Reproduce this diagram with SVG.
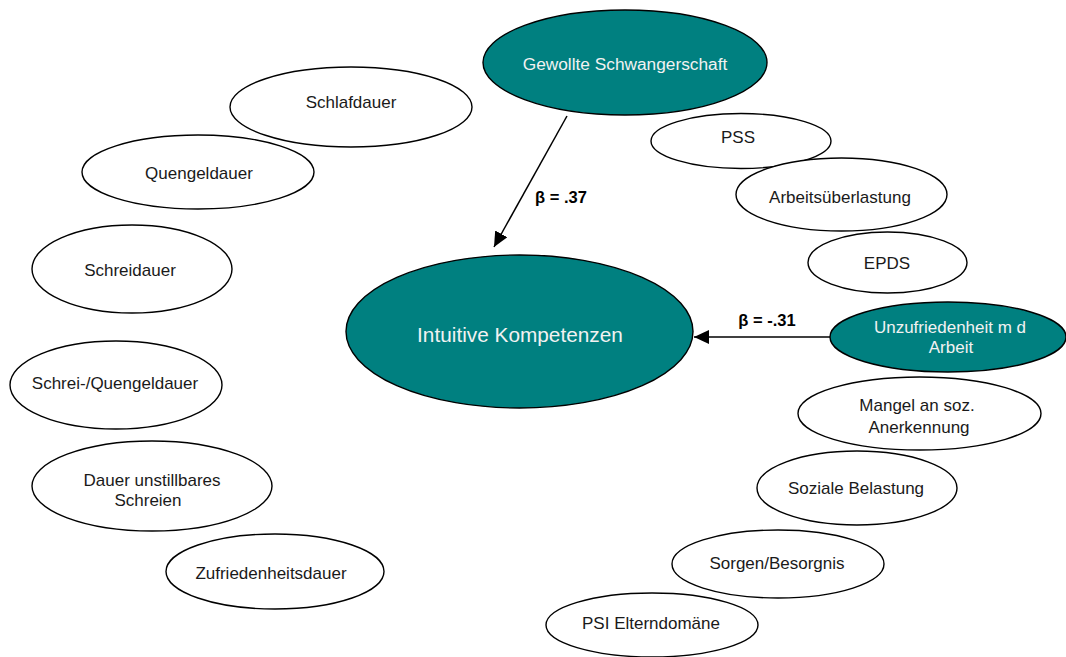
<svg xmlns="http://www.w3.org/2000/svg" width="1066" height="657" viewBox="0 0 1066 657">
<defs>
<style>
.n ellipse{fill:#ffffff;stroke:#000000;stroke-width:1.4}
.k ellipse{fill:#008080;stroke:#000000;stroke-width:1.4}
text{font-family:"Liberation Sans",Arial,sans-serif;text-anchor:middle}
.n text{font-size:17px;fill:#1a1a1a}
.k text{font-size:17px;fill:#f2f2f2}
.lbl{font-size:16.5px;font-weight:bold;fill:#000000}
.c line{stroke:#000000;stroke-width:1.5;marker-end:url(#ah)}
</style>
<marker id="ah" markerUnits="userSpaceOnUse" markerWidth="16" markerHeight="14" refX="15" refY="7" orient="auto">
<path d="M0,0 L15,7 L0,14 z" fill="#000000"/>
</marker>
</defs>
<rect width="1066" height="657" fill="#ffffff"/>

<g class="c" id="connectors">
<line x1="567" y1="116" x2="494" y2="247"/>
<line x1="830" y1="337" x2="694" y2="337"/>
<text class="lbl" x="561" y="203">β = .37</text>
<text class="lbl" x="767" y="326">β = -.31</text>
</g>

<g class="k" id="gewollte"><ellipse cx="625" cy="62.5" rx="142" ry="52.5"/><text x="625" y="70" style="font-size:17.3px">Gewollte Schwangerschaft</text></g>
<g class="k" id="intuitive"><ellipse cx="519.5" cy="331.5" rx="173.5" ry="76.5"/><text x="520" y="342" style="font-size:20.8px">Intuitive Kompetenzen</text></g>
<g class="k" id="unzufriedenheit"><ellipse cx="948" cy="337" rx="118" ry="35"/><text x="950" y="333">Unzufriedenheit m d</text><text x="951" y="353">Arbeit</text></g>

<g class="n" id="schlafdauer"><ellipse cx="351" cy="107" rx="121" ry="40"/><text x="351" y="108">Schlafdauer</text></g>
<g class="n" id="quengeldauer"><ellipse cx="198" cy="172" rx="116" ry="37"/><text x="199" y="179">Quengeldauer</text></g>
<g class="n" id="schreidauer"><ellipse cx="132" cy="269" rx="100" ry="44"/><text x="130" y="276">Schreidauer</text></g>
<g class="n" id="schreiquengel"><ellipse cx="116" cy="385" rx="106" ry="44"/><text x="115" y="389">Schrei-/Quengeldauer</text></g>
<g class="n" id="unstillbar"><ellipse cx="152" cy="486" rx="120" ry="45"/><text x="152" y="486">Dauer unstillbares</text><text x="148" y="506">Schreien</text></g>
<g class="n" id="zufriedenheit"><ellipse cx="275" cy="571.5" rx="109" ry="37.5"/><text x="271" y="579">Zufriedenheitsdauer</text></g>

<g class="n" id="pss"><ellipse cx="741" cy="141" rx="90" ry="27.5"/><text x="738" y="143">PSS</text></g>
<g class="n" id="arbeitsueberlastung"><ellipse cx="841.5" cy="194.5" rx="105.5" ry="36.5"/><text x="840" y="203">Arbeitsüberlastung</text></g>
<g class="n" id="epds"><ellipse cx="887.5" cy="262.5" rx="79.5" ry="30.5"/><text x="887" y="269">EPDS</text></g>
<g class="n" id="mangel"><ellipse cx="919.5" cy="413.5" rx="121.5" ry="36.5"/><text x="917" y="411">Mangel an soz.</text><text x="919" y="433">Anerkennung</text></g>
<g class="n" id="soziale"><ellipse cx="857" cy="488" rx="100" ry="37"/><text x="856" y="494">Soziale Belastung</text></g>
<g class="n" id="sorgen"><ellipse cx="778" cy="564" rx="106" ry="34"/><text x="777" y="569">Sorgen/Besorgnis</text></g>
<g class="n" id="psi"><ellipse cx="652" cy="625" rx="106" ry="32"/><text x="651" y="629">PSI Elterndomäne</text></g>
</svg>
